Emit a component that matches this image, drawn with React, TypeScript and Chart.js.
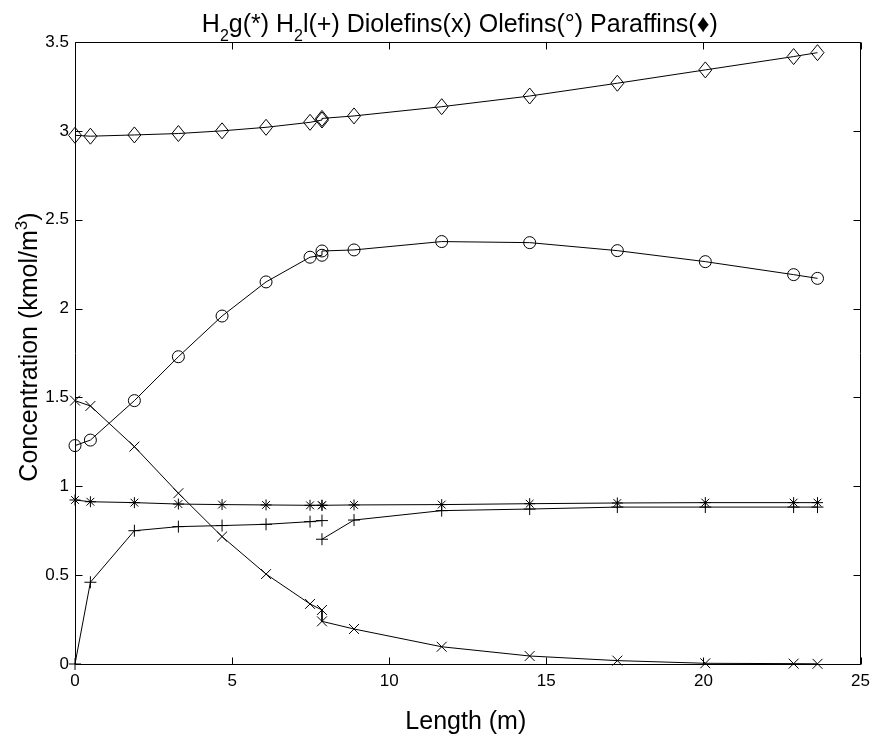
import React, { useEffect, useRef } from 'react';
import { Chart, registerables } from 'chart.js';

Chart.register(...registerables);

// Reactor length positions (m) – the point at 7.86 appears twice (end of reactor 1 / start of reactor 2)
const lengthM = [0, 0.49, 1.89, 3.29, 4.68, 6.08, 7.48, 7.86, 7.86, 8.88, 11.67, 14.47, 17.26, 20.06, 22.87, 23.63];

const h2Gas = [0.923, 0.913, 0.908, 0.9, 0.897, 0.895, 0.893, 0.893, 0.893, 0.895, 0.897, 0.902, 0.906, 0.908, 0.908, 0.908];
const h2Liquid = [0, 0.46, 0.75, 0.773, 0.779, 0.786, 0.801, 0.807, 0.702, 0.81, 0.863, 0.872, 0.883, 0.883, 0.883, 0.883];
const diolefins = [1.482, 1.452, 1.223, 0.961, 0.717, 0.506, 0.338, 0.304, 0.24, 0.197, 0.097, 0.045, 0.019, 0.004, 0.002, 0.001];
const olefins = [1.229, 1.26, 1.482, 1.729, 1.958, 2.15, 2.289, 2.3, 2.324, 2.33, 2.377, 2.371, 2.326, 2.264, 2.191, 2.17];
const paraffins = [2.975, 2.97, 2.977, 2.985, 3.0, 3.02, 3.048, 3.061, 3.07, 3.084, 3.136, 3.196, 3.268, 3.343, 3.418, 3.44];

const xTicks = [0, 5, 10, 15, 20, 25];
const yTicks = [0, 0.5, 1, 1.5, 2, 2.5, 3, 3.5];
const h2LiquidBreakIndex = 7; // no line between reactor 1 end and reactor 2 start

const FONT = '"Liberation Sans", Arial, Helvetica, sans-serif';

type Piece = { t: string; shift?: number; size?: number };

function drawPieces(ctx: CanvasRenderingContext2D, pieces: Piece[], mainSize: number, cx: number, baseline: number) {
  let total = 0;
  for (const p of pieces) {
    ctx.font = `${p.size ?? mainSize}px ${FONT}`;
    total += ctx.measureText(p.t).width;
  }
  let x = cx - total / 2;
  for (const p of pieces) {
    ctx.font = `${p.size ?? mainSize}px ${FONT}`;
    ctx.fillText(p.t, x, baseline + (p.shift ?? 0));
    x += ctx.measureText(p.t).width;
  }
}

// MATLAB-like diamond markers (slightly taller than wide), placed by the library's scales
const diamondPlugin = {
  id: 'diamondMarkers',
  afterDatasetsDraw(chart: any) {
    const { ctx } = chart;
    chart.data.datasets.forEach((ds: any, i: number) => {
      if (!ds.diamondMarker) return;
      const meta = chart.getDatasetMeta(i);
      ctx.save();
      ctx.strokeStyle = '#000';
      ctx.lineWidth = 1;
      for (const el of meta.data) {
        const { x, y } = el;
        ctx.beginPath();
        ctx.moveTo(x, y - 8);
        ctx.lineTo(x + 6.5, y);
        ctx.lineTo(x, y + 8);
        ctx.lineTo(x - 6.5, y);
        ctx.closePath();
        ctx.stroke();
      }
      ctx.restore();
    });
  },
};

const framePlugin = {
  id: 'matlabFrame',
  afterDraw(chart: any) {
    const { ctx, chartArea, scales } = chart;
    const L = Math.floor(chartArea.left) + 0.5;
    const R = Math.floor(chartArea.right) + 0.5;
    const T = Math.floor(chartArea.top) + 0.5;
    const B = Math.floor(chartArea.bottom) + 0.5;
    const tick = 7;
    ctx.save();
    ctx.strokeStyle = '#000';
    ctx.lineWidth = 1;
    ctx.beginPath();
    ctx.rect(L, T, R - L, B - T);
    for (const v of xTicks) {
      const px = Math.round(scales.x.getPixelForValue(v)) + 0.5;
      ctx.moveTo(px, B); ctx.lineTo(px, B - tick);
      ctx.moveTo(px, T); ctx.lineTo(px, T + tick);
    }
    for (const v of yTicks) {
      const py = Math.round(scales.y.getPixelForValue(v)) + 0.5;
      ctx.moveTo(L, py); ctx.lineTo(L + tick, py);
      ctx.moveTo(R, py); ctx.lineTo(R - tick, py);
    }
    ctx.stroke();

    ctx.fillStyle = '#000';
    ctx.textAlign = 'left';
    ctx.textBaseline = 'alphabetic';
    const cx = (chartArea.left + chartArea.right) / 2;
    // Title
    drawPieces(ctx, [
      { t: 'H' }, { t: '2', size: 16, shift: 9 }, { t: 'g(*) H' }, { t: '2', size: 16, shift: 9 },
      { t: 'l(+) Diolefins(x) Olefins(°) Paraffins(♦)' },
    ], 25, cx - 8, 32);
    // X label
    drawPieces(ctx, [{ t: 'Length (m)' }], 25, cx - 2, 729);
    // Y label
    const cy = (chartArea.top + chartArea.bottom) / 2;
    ctx.save();
    ctx.translate(37, cy - 6);
    ctx.rotate(-Math.PI / 2);
    drawPieces(ctx, [{ t: 'Concentration (kmol/m' }, { t: '3', size: 17, shift: -10 }, { t: ')' }], 25, 0, 0);
    ctx.restore();
    ctx.restore();
  },
};

export default function App() {
  const ref = useRef<HTMLCanvasElement>(null);
  useEffect(() => {
    const canvas = ref.current!;
    const toPoints = (ys: number[]) => lengthM.map((x, i) => ({ x, y: ys[i] }));
    const base = {
      borderColor: '#000', borderWidth: 1, backgroundColor: 'transparent',
      pointBorderColor: '#000', pointBackgroundColor: 'transparent', pointBorderWidth: 1,
      tension: 0, clip: false as const, showLine: true, fill: false,
    };
    const tickFont = { family: FONT, size: 17 };
    const chart = new Chart(canvas, {
      type: 'line',
      data: {
        datasets: [
          { ...base, label: 'H2g', data: toPoints(h2Gas), pointStyle: 'star', pointRadius: 5.5 },
          {
            ...base, label: 'H2l', data: toPoints(h2Liquid), pointStyle: 'cross', pointRadius: 6,
            segment: { borderColor: (c: any) => (c.p0DataIndex === h2LiquidBreakIndex ? 'rgba(0,0,0,0)' : '#000') },
          },
          { ...base, label: 'Diolefins', data: toPoints(diolefins), pointStyle: 'crossRot', pointRadius: 7 },
          { ...base, label: 'Olefins', data: toPoints(olefins), pointStyle: 'circle', pointRadius: 6 },
          { ...base, label: 'Paraffins', data: toPoints(paraffins), pointRadius: 0, diamondMarker: true },
        ] as any,
      },
      options: {
        animation: false,
        responsive: false,
        events: [],
        layout: { padding: { left: 0, right: 13, top: 42, bottom: 0 } },
        plugins: { legend: { display: false }, tooltip: { enabled: false }, title: { display: false } },
        scales: {
          x: {
            type: 'linear', min: 0, max: 25,
            afterBuildTicks: (s: any) => { s.ticks = xTicks.map((v) => ({ value: v })); },
            afterFit: (s: any) => { s.height = 72; },
            grid: { display: false, drawTicks: false },
            border: { display: false },
            ticks: { color: '#000', font: tickFont, padding: 7, maxRotation: 0, autoSkip: false, callback: (v: any) => String(v) },
          },
          y: {
            type: 'linear', min: 0, max: 3.5,
            afterBuildTicks: (s: any) => { s.ticks = yTicks.map((v) => ({ value: v })); },
            afterFit: (s: any) => { s.width = 75; },
            grid: { display: false, drawTicks: false },
            border: { display: false },
            ticks: { color: '#000', font: tickFont, padding: 6, autoSkip: false, callback: (v: any) => String(v) },
          },
        },
      } as any,
      plugins: [diamondPlugin, framePlugin],
    });
    return () => chart.destroy();
  }, []);

  return (
    <div style={{ position: 'absolute', left: 0, top: 0, width: 877, height: 736, background: '#fff' }}>
      <canvas ref={ref} width={877} height={736} style={{ width: 877, height: 736, display: 'block' }} />
    </div>
  );
}
